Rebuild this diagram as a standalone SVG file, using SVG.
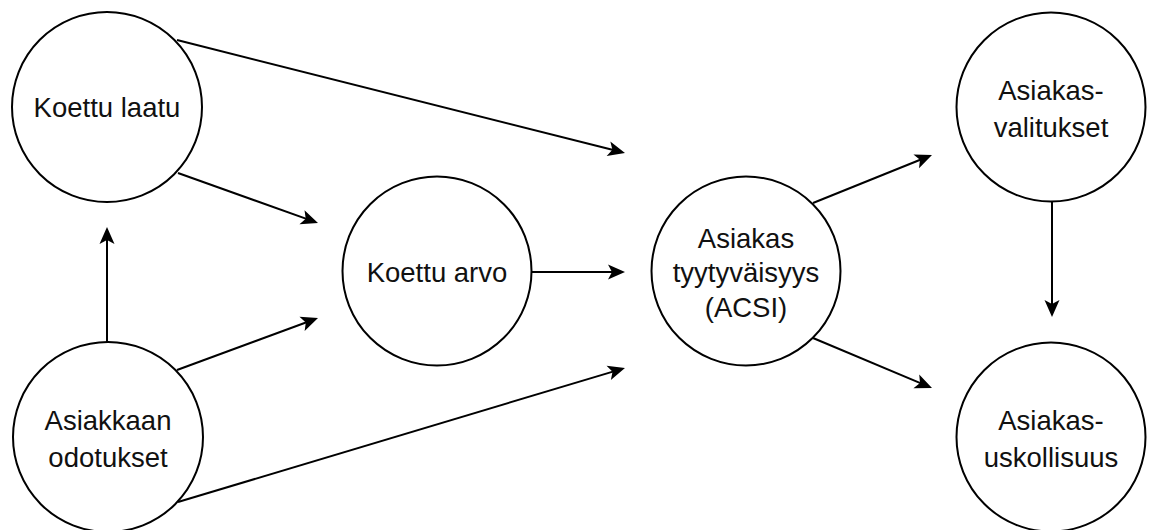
<svg xmlns="http://www.w3.org/2000/svg" width="1149" height="530" viewBox="0 0 1149 530">
<style>
.node circle{fill:#fff;stroke:#000;stroke-width:2}
.node text{font-family:"Liberation Sans",Arial,sans-serif;font-size:27.5px;fill:#111;text-anchor:middle}
.edges path{fill:none;stroke:#000;stroke-width:2}
</style>
<defs>
<marker id="arr" markerUnits="userSpaceOnUse" markerWidth="20" markerHeight="18" viewBox="0 0 20 18" refX="8" refY="9" orient="auto">
<path d="M1,1.5 L18,9 L1,16.5 L5,9 Z" fill="#000"/>
</marker>
</defs>
<rect width="1149" height="530" fill="#fff"/>
<g class="edges">
<path d="M177,40 L615.3,150.55" marker-end="url(#arr)"/>
<path d="M178,173 L308.58,219.64" marker-end="url(#arr)"/>
<path d="M107,342 L107,237" marker-end="url(#arr)"/>
<path d="M177,370 L308.62,321.46" marker-end="url(#arr)"/>
<path d="M178,502 L615.42,370.87" marker-end="url(#arr)"/>
<path d="M532,272 L615,272" marker-end="url(#arr)"/>
<path d="M813,203 L922.72,158.74" marker-end="url(#arr)"/>
<path d="M813,338 L922.78,384.13" marker-end="url(#arr)"/>
<path d="M1052,202 L1052,307" marker-end="url(#arr)"/>
</g>
<g id="koettu-laatu" class="node">
<circle cx="107" cy="107" r="95"/>
<text x="107" y="117">Koettu laatu</text>
</g>
<g id="asiakkaan-odotukset" class="node">
<circle cx="108" cy="437" r="95"/>
<text x="108" y="430">Asiakkaan</text>
<text x="108" y="467">odotukset</text>
</g>
<g id="koettu-arvo" class="node">
<circle cx="437" cy="271" r="94.5"/>
<text x="437" y="282">Koettu arvo</text>
</g>
<g id="asiakas-tyytyvaisyys" class="node">
<circle cx="746" cy="271" r="94.5"/>
<text x="746" y="248">Asiakas</text>
<text x="746" y="282">tyytyväisyys</text>
<text x="746" y="317">(ACSI)</text>
</g>
<g id="asiakas-valitukset" class="node">
<circle cx="1051" cy="107" r="94.5"/>
<text x="1051" y="100">Asiakas-</text>
<text x="1051" y="137">valitukset</text>
</g>
<g id="asiakas-uskollisuus" class="node">
<circle cx="1051" cy="437" r="94.5"/>
<text x="1051" y="430">Asiakas-</text>
<text x="1051" y="467">uskollisuus</text>
</g>
</svg>
